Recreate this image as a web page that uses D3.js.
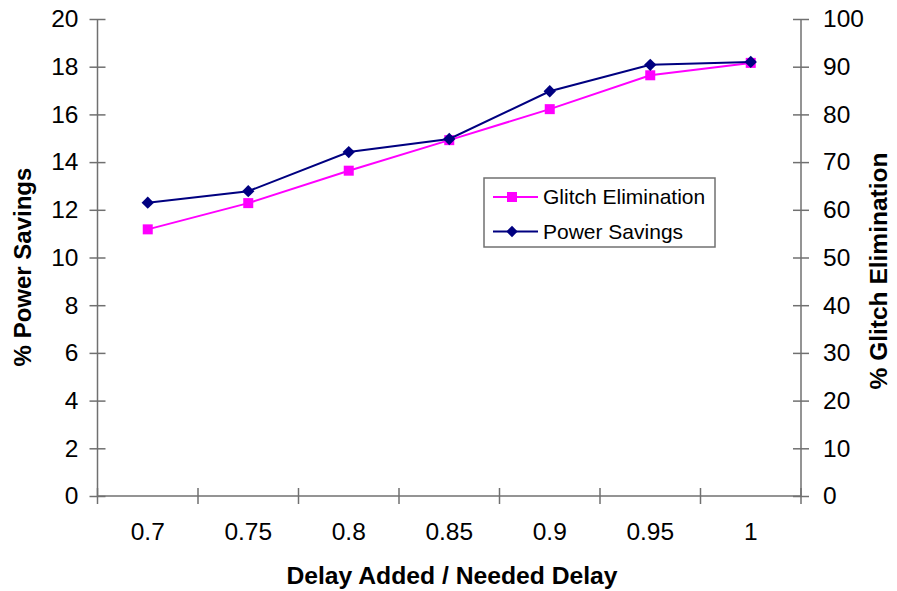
<!DOCTYPE html>
<html>
<head>
<meta charset="utf-8">
<script src="https://cdn.jsdelivr.net/npm/d3@7"></script>
<style>
  body { margin: 0; background: #fff; }
  svg { display: block; font-family: "Liberation Sans", Arial, sans-serif; }
</style>
</head>
<body>
<div id="chart"></div>
<script>
// Chart data
const categories = ["0.7", "0.75", "0.8", "0.85", "0.9", "0.95", "1"];
const powerSavings = [12.3, 12.78, 14.42, 14.97, 16.97, 18.08, 18.2];
const glitchElimination = [55.9, 61.4, 68.2, 74.6, 81.1, 88.2, 90.8];
const leftTicks = [0, 2, 4, 6, 8, 10, 12, 14, 16, 18, 20];
const rightTicks = [0, 10, 20, 30, 40, 50, 60, 70, 80, 90, 100];

const width = 897, height = 591;
const margin = {top: 19, right: 96, bottom: 95, left: 97.5};
const innerW = width - margin.left - margin.right;
const innerH = height - margin.top - margin.bottom;

const svg = d3.select("#chart").append("svg")
    .attr("width", width)
    .attr("height", height);

const g = svg.append("g")
    .attr("transform", `translate(${margin.left},${margin.top})`);

// Scales
const xScale = d3.scaleBand().domain(categories).range([0, innerW]);
const yLeft = d3.scaleLinear().domain([0, 20]).range([innerH, 0]);
const yRight = d3.scaleLinear().domain([0, 100]).range([innerH, 0]);

const axisColor = "#707070";

// Left axis (ticks cross the line)
const leftAxisG = g.append("g")
    .call(d3.axisLeft(yLeft).tickValues(leftTicks).tickSize(8).tickPadding(11));
leftAxisG.selectAll(".tick line").attr("x1", 8);

// Right axis
const rightAxisG = g.append("g")
    .attr("transform", `translate(${innerW},0)`)
    .call(d3.axisRight(yRight).tickValues(rightTicks).tickSize(8).tickPadding(14));
rightAxisG.selectAll(".tick line").attr("x1", -8);

// Bottom axis: labels centered in bands, tick marks at band edges
const bottomAxisG = g.append("g")
    .attr("transform", `translate(0,${innerH})`)
    .call(d3.axisBottom(xScale).tickSize(0).tickPadding(27));
bottomAxisG.selectAll(".tick line").remove();

const edges = categories.map(c => xScale(c)).concat([xScale.range()[1]]);
bottomAxisG.selectAll(".edge-tick")
    .data(edges)
    .join("line")
    .attr("class", "edge-tick")
    .attr("x1", d => d).attr("x2", d => d)
    .attr("y1", -8).attr("y2", 8);

[leftAxisG, rightAxisG, bottomAxisG].forEach(a => {
    a.select(".domain").attr("stroke", axisColor).attr("stroke-width", 1.5);
    a.selectAll("line").attr("stroke", axisColor).attr("stroke-width", 1.5);
    a.selectAll("text")
        .attr("fill", "#000")
        .attr("font-size", "24.5px")
        .attr("font-family", "Liberation Sans, Arial, sans-serif");
});
leftAxisG.select(".domain").attr("d", `M0,0V${innerH}`);
rightAxisG.select(".domain").attr("d", `M0,0V${innerH}`);
bottomAxisG.select(".domain").attr("d", `M0,0H${innerW}`);

const cx = d => xScale(d) + xScale.bandwidth() / 2;

const glitchColor = "#FF00FF";
const powerColor = "#000080";

// Glitch elimination series (right axis)
g.append("path")
    .datum(glitchElimination)
    .attr("fill", "none")
    .attr("stroke", glitchColor)
    .attr("stroke-width", 2)
    .attr("d", d3.line().x((d, i) => cx(categories[i])).y(d => yRight(d)));

g.selectAll(".glitch-pt")
    .data(glitchElimination)
    .join("rect")
    .attr("class", "glitch-pt")
    .attr("x", (d, i) => cx(categories[i]) - 5)
    .attr("y", d => yRight(d) - 5)
    .attr("width", 10)
    .attr("height", 10)
    .attr("fill", glitchColor);

// Power savings series (left axis)
g.append("path")
    .datum(powerSavings)
    .attr("fill", "none")
    .attr("stroke", powerColor)
    .attr("stroke-width", 2)
    .attr("d", d3.line().x((d, i) => cx(categories[i])).y(d => yLeft(d)));

g.selectAll(".power-pt")
    .data(powerSavings)
    .join("path")
    .attr("class", "power-pt")
    .attr("transform", (d, i) => `translate(${cx(categories[i])},${yLeft(d)}) rotate(45)`)
    .attr("d", d3.symbol().type(d3.symbolSquare).size(76))
    .attr("fill", powerColor);

// Axis titles
svg.append("text")
    .attr("transform", `translate(31,267) rotate(-90)`)
    .attr("text-anchor", "middle")
    .attr("font-size", "24px")
    .attr("font-weight", "bold")
    .text("% Power Savings");

svg.append("text")
    .attr("transform", `translate(887,271) rotate(-90)`)
    .attr("text-anchor", "middle")
    .attr("font-size", "24.5px")
    .attr("font-weight", "bold")
    .text("% Glitch Elimination");

svg.append("text")
    .attr("x", 452)
    .attr("y", 584)
    .attr("text-anchor", "middle")
    .attr("font-size", "24.7px")
    .attr("font-weight", "bold")
    .text("Delay Added / Needed Delay");

// Legend
const legend = svg.append("g").attr("transform", "translate(484,178)");
legend.append("rect")
    .attr("width", 231).attr("height", 69)
    .attr("fill", "#fff")
    .attr("stroke", axisColor)
    .attr("stroke-width", 1.5);

const legendItems = [
    {name: "Glitch Elimination", color: glitchColor, shape: "square", y: 19},
    {name: "Power Savings", color: powerColor, shape: "diamond", y: 53.5}
];
legendItems.forEach(item => {
    const row = legend.append("g").attr("transform", `translate(0,${item.y})`);
    row.append("line")
        .attr("x1", 9).attr("x2", 54)
        .attr("stroke", item.color).attr("stroke-width", 2);
    if (item.shape === "square") {
        row.append("rect")
            .attr("x", 23).attr("y", -5).attr("width", 10).attr("height", 10)
            .attr("fill", item.color);
    } else {
        row.append("path")
            .attr("transform", "translate(28,0) rotate(45)")
            .attr("d", d3.symbol().type(d3.symbolSquare).size(64))
            .attr("fill", item.color);
    }
    row.append("text")
        .attr("x", 59)
        .attr("dy", "0.35em")
        .attr("font-size", "21px")
        .text(item.name);
});
</script>
</body>
</html>
